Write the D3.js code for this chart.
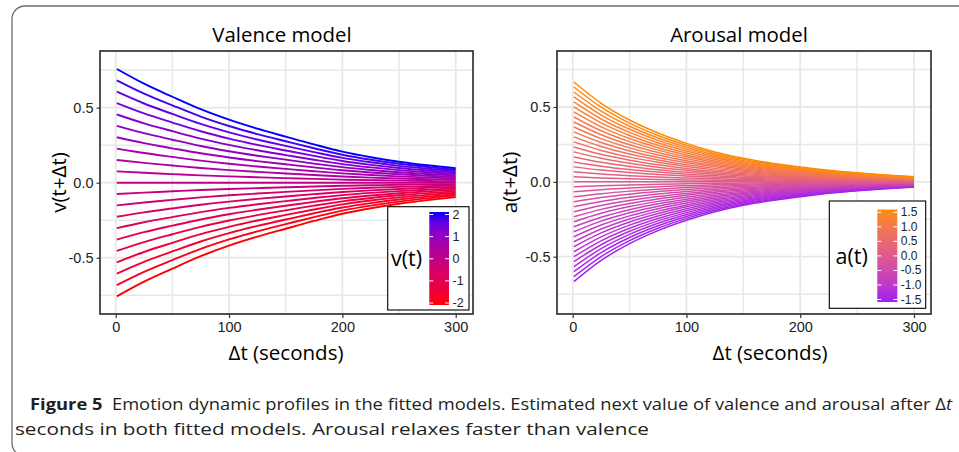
<!DOCTYPE html>
<html>
<head>
<meta charset="utf-8">
<script src="https://cdn.jsdelivr.net/npm/d3@7"></script>
<style>
body { margin: 0; background: #fff; }
</style>
</head>
<body>
<div id="chart"></div>
<script>
var dtPoints = [1, 25, 50, 75, 100, 125, 150, 175, 200, 225, 250, 275, 300];
// predicted v(t+Δt) for the top curve, v(t) = 2
var valenceTop = [0.758, 0.66, 0.573, 0.49, 0.42, 0.36, 0.307, 0.255, 0.207, 0.17, 0.14, 0.116, 0.096];
// predicted a(t+Δt) for the top curve, a(t) = 1.5
var arousalTop = [0.667, 0.525, 0.413, 0.326, 0.257, 0.2, 0.157, 0.125, 0.1, 0.077, 0.06, 0.046, 0.035];

// starting values, one line each
var valenceLevels = [-2, -1.8, -1.6, -1.4, -1.2, -1, -0.8, -0.6, -0.4, -0.2, 0,
  0.2, 0.4, 0.6, 0.8, 1, 1.2, 1.4, 1.6, 1.8, 2];
var arousalLevels = [-1.5, -1.425, -1.35, -1.275, -1.2, -1.125, -1.05, -0.975, -0.9, -0.825,
  -0.75, -0.675, -0.6, -0.525, -0.45, -0.375, -0.3, -0.225, -0.15, -0.075, 0,
  0.075, 0.15, 0.225, 0.3, 0.375, 0.45, 0.525, 0.6, 0.675, 0.75, 0.825, 0.9,
  0.975, 1.05, 1.125, 1.2, 1.275, 1.35, 1.425, 1.5];

// tick labels
var xTicks = [0, 100, 200, 300];
var xGrid = [0, 50, 100, 150, 200, 250, 300];
var yTicks = [-0.5, 0, 0.5];
var yTickLabels = ["-0.5", "0.0", "0.5"];
var yGrid = [-0.75, -0.5, -0.25, 0, 0.25, 0.5, 0.75];
var valenceLegendTicks = [2, 1, 0, -1, -2];
var valenceLegendLabels = ["2", "1", "0", "-1", "-2"];
var arousalLegendTicks = [1.5, 1, 0.5, 0, -0.5, -1, -1.5];
var arousalLegendLabels = ["1.5", "1.0", "0.5", "0.0", "-0.5", "-1.0", "-1.5"];

var svg = d3.select("#chart").append("svg")
  .attr("width", 959).attr("height", 452);

// outer frame of the figure
svg.append("rect")
  .attr("x", 12).attr("y", 6)
  .attr("width", 990).attr("height", 450)
  .attr("rx", 13)
  .attr("fill", "none")
  .attr("stroke", "#6e6e6e")
  .attr("stroke-width", 1.3);

var titleFont = "'Open Sans', 'Noto Sans', sans-serif";
var tickFont = "'Liberation Sans', Arial, sans-serif";

function drawPanel(p) {
  var g = svg.append("g");

  var x = d3.scaleLinear().domain([0, 300]).range(p.xRange);
  var y = d3.scaleLinear().domain([-0.5, 0.5]).range(p.yRange);

  // gridlines
  g.selectAll(".vgrid").data(xGrid).enter().append("line")
    .attr("x1", d => x(d)).attr("x2", d => x(d))
    .attr("y1", p.top).attr("y2", p.bottom)
    .attr("stroke", "#e8e8e8")
    .attr("stroke-width", d => d % 100 === 0 ? 1.8 : 1.5);
  g.selectAll(".hgrid").data(yGrid).enter().append("line")
    .attr("y1", d => y(d)).attr("y2", d => y(d))
    .attr("x1", p.left).attr("x2", p.right)
    .attr("stroke", "#e8e8e8")
    .attr("stroke-width", d => Math.abs(d * 2) % 1 === 0 ? 1.8 : 1.5);

  var color = d3.scaleLinear()
    .domain([d3.min(p.levels), d3.max(p.levels)])
    .range(p.colors)
    .interpolate(d3.interpolateLab);

  var maxLevel = d3.max(p.levels);
  var line = d3.line()
    .x(d => x(d.t))
    .y(d => y(d.v))
    .curve(d3.curveMonotoneX);

  g.selectAll(".curve").data(p.levels).enter().append("path")
    .attr("d", lv => line(dtPoints.map((t, i) => ({ t: t, v: p.profile[i] * lv / maxLevel }))))
    .attr("fill", "none")
    .attr("stroke", lv => color(lv))
    .attr("stroke-width", p.lineWidth);

  // panel border
  g.append("rect")
    .attr("x", p.left).attr("y", p.top)
    .attr("width", p.right - p.left).attr("height", p.bottom - p.top)
    .attr("fill", "none")
    .attr("stroke", "#333")
    .attr("stroke-width", 1.7);

  // axes
  var xAxis = g.append("g")
    .attr("transform", `translate(0, ${p.bottom})`)
    .call(d3.axisBottom(x).tickValues(xTicks).tickSize(4).tickPadding(4).tickFormat(d => String(d)));
  var yAxis = g.append("g")
    .attr("transform", `translate(${p.left}, 0)`)
    .call(d3.axisLeft(y).tickValues(yTicks).tickSize(3.5).tickPadding(3)
      .tickFormat((d, i) => yTickLabels[i]));
  [xAxis, yAxis].forEach(function(a) {
    a.select(".domain").remove();
    a.selectAll(".tick line").attr("stroke", "#333").attr("stroke-width", 1.2);
    a.selectAll(".tick text")
      .attr("fill", "#222")
      .style("font-family", tickFont)
      .style("font-size", "14.5px");
  });

  // titles
  g.append("text")
    .attr("x", p.titleX).attr("y", 42)
    .attr("text-anchor", "middle")
    .style("font-family", titleFont).style("font-size", "20.4px")
    .text(p.title);
  g.append("text")
    .attr("x", p.xlabX).attr("y", 360)
    .attr("text-anchor", "middle")
    .style("font-family", titleFont).style("font-size", "20.5px")
    .text("Δt (seconds)");
  g.append("text")
    .attr("transform", `translate(${p.ylabX}, ${(p.top + p.bottom) / 2}) rotate(-90)`)
    .attr("text-anchor", "middle")
    .attr("dominant-baseline", "central")
    .style("font-family", titleFont).style("font-size", "20.5px")
    .text(p.ylab);

  // legend
  var lg = p.legend;
  g.append("rect")
    .attr("x", lg.x).attr("y", lg.y).attr("width", lg.w).attr("height", lg.h)
    .attr("fill", "#fff").attr("stroke", "#000").attr("stroke-width", 1.1);
  g.append("text")
    .attr("x", lg.titleX).attr("y", lg.titleY)
    .style("font-family", titleFont).style("font-size", "21.5px")
    .text(p.legendTitle);

  var gradId = "grad-" + p.id;
  var grad = svg.append("defs").append("linearGradient")
    .attr("id", gradId)
    .attr("x1", 0).attr("y1", 1).attr("x2", 0).attr("y2", 0);
  d3.range(11).forEach(function(i) {
    var v = color.domain()[0] + (color.domain()[1] - color.domain()[0]) * i / 10;
    grad.append("stop").attr("offset", (i * 10) + "%").attr("stop-color", color(v));
  });
  g.append("rect")
    .attr("x", lg.barX).attr("y", lg.barTop)
    .attr("width", lg.barW).attr("height", lg.barBottom - lg.barTop)
    .attr("fill", `url(#${gradId})`);

  var ly = d3.scaleLinear().domain([d3.min(p.levels), maxLevel]).range(lg.tickRange);
  g.selectAll(".lgtickL").data(p.legendTicks).enter().append("line")
    .attr("x1", lg.barX).attr("x2", lg.barX + lg.barW / 5)
    .attr("y1", d => ly(d)).attr("y2", d => ly(d))
    .attr("stroke", "#fff").attr("stroke-width", 1);
  g.selectAll(".lgtickR").data(p.legendTicks).enter().append("line")
    .attr("x1", lg.barX + lg.barW * 4 / 5).attr("x2", lg.barX + lg.barW)
    .attr("y1", d => ly(d)).attr("y2", d => ly(d))
    .attr("stroke", "#fff").attr("stroke-width", 1);
  g.selectAll(".lglab").data(p.legendTicks).enter().append("text")
    .attr("x", lg.barX + lg.barW + 3.5)
    .attr("y", d => ly(d))
    .attr("dominant-baseline", "central")
    .attr("fill", "#222")
    .style("font-family", tickFont).style("font-size", lg.fontSize)
    .text((d, i) => p.legendLabels[i]);
}

drawPanel({
  id: "v", title: "Valence model", ylab: "v(t+Δt)", legendTitle: "v(t)",
  left: 100, right: 473, top: 51, bottom: 314,
  xRange: [115.7, 455.7], yRange: [257.7, 107.7],
  titleX: 282, xlabX: 286, ylabX: 57.5,
  profile: valenceTop, levels: valenceLevels, colors: ["#ff0000", "#0000ff"],
  lineWidth: 1.9,
  legendTicks: valenceLegendTicks, legendLabels: valenceLegendLabels,
  legend: { x: 387.7, y: 206.7, w: 81.3, h: 103.3, titleX: 391, titleY: 266,
    barX: 429.3, barW: 19.7, barTop: 212, barBottom: 305, tickRange: [303, 214.5], fontSize: "12.5px" }
});

drawPanel({
  id: "a", title: "Arousal model", ylab: "a(t+Δt)", legendTitle: "a(t)",
  left: 557, right: 931, top: 51, bottom: 314,
  xRange: [572.7, 914], yRange: [256.7, 107],
  titleX: 739, xlabX: 770, ylabX: 509,
  profile: arousalTop, levels: arousalLevels, colors: ["#a020f0", "#ff8c00"],
  lineWidth: 1.5,
  legendTicks: arousalLegendTicks, legendLabels: arousalLegendLabels,
  legend: { x: 829.3, y: 201, w: 96.4, h: 107.3, titleX: 835.5, titleY: 264,
    barX: 877.3, barW: 20, barTop: 209.5, barBottom: 302, tickRange: [299.5, 212.3], fontSize: "12px" }
});

// caption
var cap1 = svg.append("text")
  .attr("x", 30).attr("y", 410)
  .attr("textLength", 922).attr("lengthAdjust", "spacingAndGlyphs")
  .attr("fill", "#231f20")
  .style("font-family", titleFont).style("font-size", "16.5px");
cap1.append("tspan").style("font-weight", "bold").text("Figure 5");
cap1.append("tspan").text("\u00a0\u00a0Emotion dynamic profiles in the fitted models. Estimated next value of valence and arousal after Δ");
cap1.append("tspan").style("font-style", "italic").text("t");

svg.append("text")
  .attr("x", 15).attr("y", 435)
  .attr("textLength", 634).attr("lengthAdjust", "spacingAndGlyphs")
  .attr("fill", "#231f20")
  .style("font-family", titleFont).style("font-size", "16.5px")
  .text("seconds in both fitted models. Arousal relaxes faster than valence");
</script>
</body>
</html>
